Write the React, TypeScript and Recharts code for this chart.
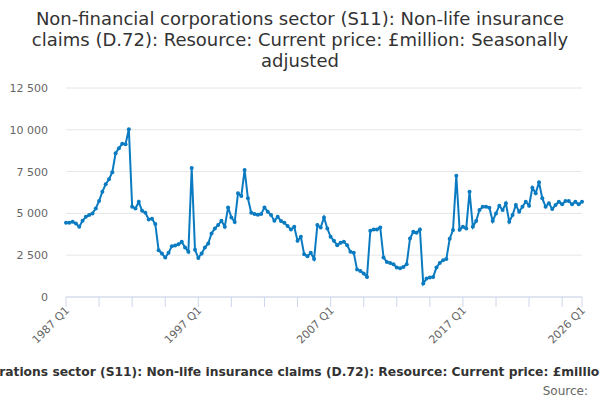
import { LineChart, Line, XAxis, YAxis, CartesianGrid } from "recharts"

// quarterly values, £million
const values1987to1996 = [
    4440, 4440, 4500, 4400, 4200, 4560, 4800, 4900, 5000, 5300,
    5740, 6300, 6740, 7040, 7460, 8600, 8900, 9160, 9140, 10040,
    5400, 5300, 5700, 5160, 5040, 4640, 4680, 4360, 2800, 2600,
    2360, 2640, 3040, 3080, 3160, 3300, 2960, 2700, 7720, 2820,
]
const values1997to2006 = [
    2340, 2600, 2960, 3200, 3800, 4100, 4300, 4560, 4200, 5360,
    4760, 4480, 6200, 6040, 7600, 5900, 5040, 4960, 4920, 4960,
    5360, 5100, 4900, 4560, 4800, 4540, 4440, 4240, 4040, 4200,
    3360, 3600, 2560, 2440, 2640, 2280, 4300, 4160, 4760, 4100,
]
const values2007to2016 = [
    3600, 3360, 3100, 3240, 3300, 3100, 2700, 2640, 1640, 1560,
    1400, 1200, 3960, 4040, 4040, 4160, 2360, 2100, 2040, 1960,
    1760, 1720, 1800, 1960, 3500, 3900, 3840, 4040, 800, 1100,
    1160, 1200, 1760, 2040, 2200, 2280, 3480, 4000, 7250, 4020,
]
const values2017to2026 = [
    4200, 4100, 6300, 4200, 4540, 5200, 5400, 5400, 5340, 4540,
    5000, 5460, 5200, 5600, 4500, 4900, 5500, 5100, 5400, 5700,
    5460, 6540, 6200, 6860, 5900, 5400, 5600, 5260, 5500, 5700,
    5540, 5740, 5740, 5540, 5700, 5540, 5700,
]

const firstYear = 1987
const lastYear = 2026
const labelledTicks = ["1987 Q1", "1997 Q1", "2007 Q1", "2017 Q1", "2026 Q1"]
const yTicks = [0, 2500, 5000, 7500, 10000, 12500]

const titleLines = [
    "Non-financial corporations sector (S11): Non-life insurance",
    "claims (D.72): Resource: Current price: £million: Seasonally",
    "adjusted",
]
const seriesName =
    "Non-financial corporations sector (S11): Non-life insurance claims (D.72): Resource: Current price: £million: Seasonally adjusted"

const quarters: string[] = []
for (let y = firstYear; y <= lastYear; y++) {
    for (let q = 1; q <= 4; q++) {
        if (y === lastYear && q > 1) break
        quarters.push(`${y} Q${q}`)
    }
}

const values = [...values1987to1996, ...values1997to2006, ...values2007to2016, ...values2017to2026]
const data = quarters.map((quarter, i) => ({ quarter, value: values[i] }))

// tick marks every 10 quarters plus the last one
const tickQuarters = quarters.filter((_, i) => i % 10 === 0 || i === quarters.length - 1)

const LINE_COLOR = "#0b7bc1"

function QuarterTick(props: any) {
    const { x, y, payload } = props
    if (!labelledTicks.includes(payload.value)) return null
    return (
        <text
            x={0}
            y={0}
            transform={`translate(${x + 4},${y + 4}) rotate(-45)`}
            textAnchor="end"
            fontSize={11}
            fill="#666"
        >
            {payload.value}
        </text>
    )
}

const formatThousands = (v: number) => v.toLocaleString("en-GB").replace(/,/g, " ")

export default function App() {
    return (
        <div
            style={{
                position: "absolute",
                top: 0,
                left: 0,
                width: 600,
                height: 400,
                overflow: "hidden",
                background: "#fff",
                fontFamily: "'DejaVu Sans', sans-serif",
            }}
        >
            <LineChart
                width={600}
                height={400}
                data={data}
                margin={{ top: 88, right: 18, bottom: 43, left: 0 }}
            >
                <CartesianGrid vertical={false} stroke="#e6e6e6" />
                <XAxis
                    dataKey="quarter"
                    ticks={tickQuarters}
                    interval={0}
                    height={60}
                    tickSize={10}
                    tickMargin={0}
                    axisLine={{ stroke: "#ccd6eb" }}
                    tickLine={{ stroke: "#ccd6eb" }}
                    tick={<QuarterTick />}
                />
                <YAxis
                    width={66}
                    domain={[0, 12500]}
                    ticks={yTicks}
                    axisLine={false}
                    tickLine={false}
                    tickSize={0}
                    tickMargin={18}
                    tick={{ fontSize: 11, fill: "#666" }}
                    tickFormatter={formatThousands}
                />
                <Line
                    type="linear"
                    dataKey="value"
                    stroke={LINE_COLOR}
                    strokeWidth={2}
                    dot={{ r: 2, fill: LINE_COLOR, stroke: LINE_COLOR, strokeWidth: 0 }}
                    isAnimationActive={false}
                />
            </LineChart>

            <div
                style={{
                    position: "absolute",
                    top: 8,
                    left: 0,
                    width: 600,
                    textAlign: "center",
                    fontSize: 18,
                    lineHeight: "21px",
                    color: "#333",
                }}
            >
                {titleLines.map((line) => (
                    <div key={line}>{line}</div>
                ))}
            </div>

            <div
                style={{
                    position: "absolute",
                    top: 365,
                    left: 0,
                    width: 600,
                    display: "flex",
                    justifyContent: "center",
                    alignItems: "center",
                    whiteSpace: "nowrap",
                    fontSize: 12.3,
                    fontWeight: "bold",
                    color: "#333",
                }}
            >
                <span style={{ flexShrink: 0, display: "flex", alignItems: "center" }}>
                    <span style={{ width: 16, height: 2, background: LINE_COLOR, marginRight: 5 }} />
                    {seriesName}
                </span>
            </div>

            <div
                style={{
                    position: "absolute",
                    top: 384,
                    right: 12,
                    fontSize: 12,
                    color: "#666",
                }}
            >
                Source:
            </div>
        </div>
    )
}
